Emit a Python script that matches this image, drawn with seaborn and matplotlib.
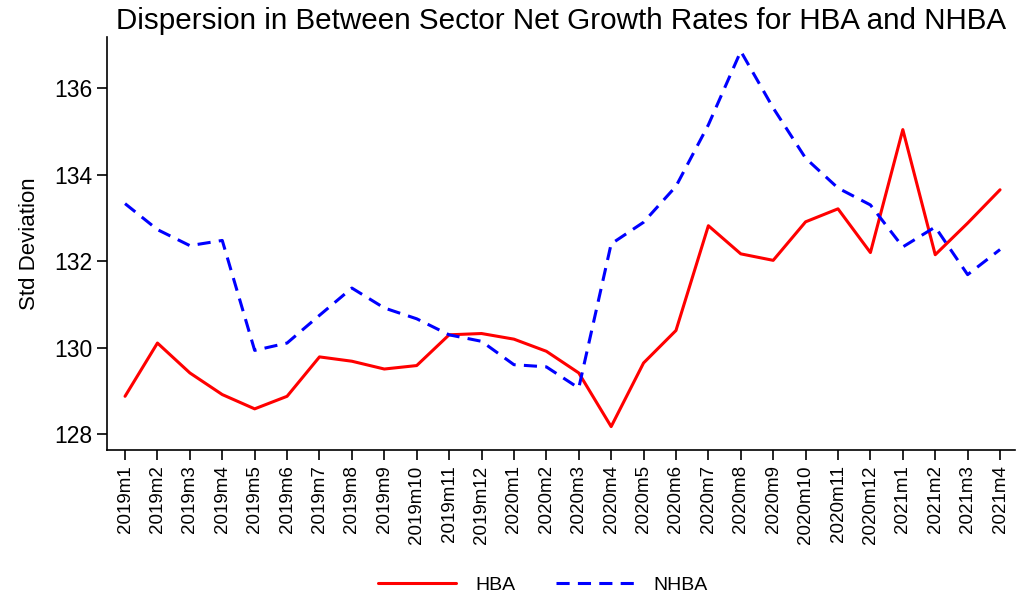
import pandas as pd
import matplotlib.pyplot as plt
import seaborn as sns

# ------------------------------------------------------------
# Data
# ------------------------------------------------------------

months = [
    "2019m1", "2019m2", "2019m3", "2019m4", "2019m5", "2019m6", "2019m7",
    "2019m8", "2019m9", "2019m10", "2019m11", "2019m12",
    "2020m1", "2020m2", "2020m3", "2020m4", "2020m5", "2020m6", "2020m7",
    "2020m8", "2020m9", "2020m10", "2020m11", "2020m12",
    "2021m1", "2021m2", "2021m3", "2021m4",
]

hba = [
    128.88, 130.11, 129.42, 128.92, 128.59, 128.88, 129.79,
    129.69, 129.51, 129.59, 130.30, 130.33,
    130.20, 129.92, 129.42, 128.18, 129.65, 130.40, 132.82,
    132.17, 132.02, 132.91, 133.21, 132.20,
    135.04, 132.15, 132.88, 133.65,
]

nhba = [
    133.33, 132.73, 132.36, 132.48, 129.94, 130.11, 130.75,
    131.38, 130.92, 130.67, 130.30, 130.15,
    129.61, 129.56, 129.07, 132.40, 132.90, 133.73, 135.15,
    136.85, 135.54, 134.38, 133.69, 133.30,
    132.33, 132.79, 131.69, 132.27,
]

y_ticks = [128, 130, 132, 134, 136]

df = pd.DataFrame({
    "month": months * 2,
    "value": hba + nhba,
    "series": ["HBA"] * len(months) + ["NHBA"] * len(months),
})

# ------------------------------------------------------------
# Plot
# ------------------------------------------------------------

sns.set_style("white")
plt.rcParams["font.family"] = ["Liberation Sans", "DejaVu Sans"]
plt.rcParams["text.color"] = "black"
plt.rcParams["axes.labelcolor"] = "black"
plt.rcParams["xtick.color"] = "black"
plt.rcParams["ytick.color"] = "black"

fig = plt.figure(figsize=(10.18, 5.96), dpi=100)
ax = fig.add_axes([0.105, 0.245, 0.892, 0.693])

sns.lineplot(
    data=df, x="month", y="value", hue="series", style="series",
    palette={"HBA": "#ff0000", "NHBA": "#0000ff"},
    dashes={"HBA": "", "NHBA": (4.3, 2.7)},
    linewidth=2.2, sort=False, ax=ax,
)

ax.set_xlim(-0.56, len(months) - 1 + 0.46)
ax.set_ylim(127.64, 137.18)
ax.set_yticks(y_ticks)
ax.set_xticks(range(len(months)))
ax.set_xticklabels(months, rotation=90, fontsize=13.5)
ax.tick_params(axis="y", labelsize=16.5, length=7, width=1.2, direction="out", left=True)
ax.tick_params(axis="x", length=7, width=1.2, direction="out", bottom=True, pad=4)

sns.despine(ax=ax)
for side in ["left", "bottom"]:
    ax.spines[side].set_color("black")
    ax.spines[side].set_linewidth(1.2)

ax.set_xlabel("")
ax.set_ylabel("Std Deviation", fontsize=16, labelpad=10)
ax.set_title("Dispersion in Between Sector Net Growth Rates for HBA and NHBA",
             fontsize=21.3, pad=6)

handles, labels = ax.get_legend_handles_labels()
ax.legend(handles, labels, loc="center", bbox_to_anchor=(0.48, -0.328),
          ncol=2, frameon=False, fontsize=14, handlelength=4,
          handletextpad=1.0, columnspacing=2.1, borderpad=0.1)

plt.savefig("out.png", dpi=100)
plt.close()
